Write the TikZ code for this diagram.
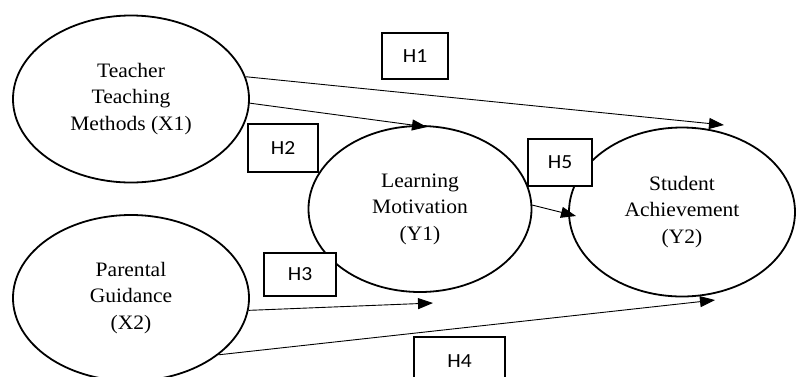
\documentclass[tikz,border=0pt]{standalone}
\usepackage{fontspec}
\setmainfont[FakeStretch=1.05]{Liberation Serif}
\newfontfamily\boxfont[FakeStretch=1.08]{Carlito}
\usetikzlibrary{shapes.geometric,arrows.meta}
\begin{document}
\begin{tikzpicture}[x=1pt,y=-1pt,
  latent/.style={ellipse,draw,line width=1.8pt,inner sep=0pt,align=center,
    font=\fontsize{20.5}{26.5}\selectfont},
  hyp/.style={rectangle,draw,line width=1.8pt,fill=white,inner sep=0pt,
    font=\boxfont\fontsize{20}{22}\selectfont},
  arr/.style={line width=0.9pt,-{Triangle[length=15pt,width=11pt]}}]
\useasboundingbox (0,0) rectangle (796,376);
\node[latent,minimum width=236pt,minimum height=167pt] (x1) at (131,99) {Teacher\\Teaching\\Methods (X1)};
\node[latent,minimum width=236pt,minimum height=166pt] (x2) at (131,298) {Parental\\Guidance\\(X2)};
\node[latent,minimum width=223pt,minimum height=166pt] (y1) at (420,209) {Learning\\Motivation\\(Y1)};
\node[latent,minimum width=226pt,minimum height=169pt] (y2) at (682,212) {Student\\Achievement\\(Y2)};
\coordinate (t1) at (724,125);
\coordinate (t2) at (427,127);
\coordinate (t5) at (576,216);
\coordinate (t3) at (433,303);
\coordinate (t4) at (715,300);
\draw[arr] (x1.11.7) -- (t1);
\draw[arr] (x1.-2) -- (t2);
\draw[arr] (y1.2) -- (t5);
\draw[arr] (x2.-6) -- (t3);
\draw[arr] (x2.-33) -- (t4);
\node[hyp,minimum width=66pt,minimum height=46pt] (h1) at (415,56) {H1};
\node[hyp,minimum width=70pt,minimum height=48pt] (h2) at (283,148) {H2};
\node[hyp,minimum width=64pt,minimum height=47pt] (h5) at (560,162.5) {H5};
\node[hyp,minimum width=72pt,minimum height=43pt] (h3) at (300,274.5) {H3};
\node[hyp,minimum width=91pt,minimum height=48pt] (h4) at (459.5,361) {H4};
\end{tikzpicture}
\end{document}
